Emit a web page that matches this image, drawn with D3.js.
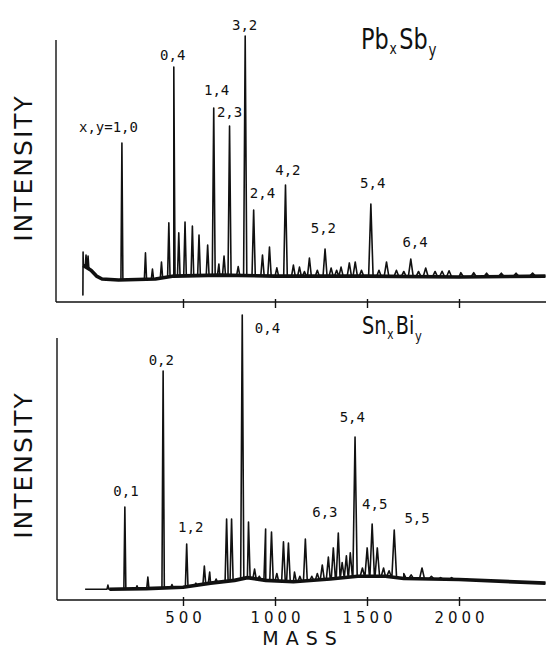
<!DOCTYPE html>
<html>
<head>
<meta charset="utf-8">
<script src="https://cdnjs.cloudflare.com/ajax/libs/d3/7.8.5/d3.min.js"></script>
<style>
  body { margin: 0; background: #fff; }
  svg { display: block; }
  .spectrum { fill: none; stroke: #111; stroke-linejoin: round; }
  .frame { stroke: #111; stroke-width: 1.4; }
  .tick line { stroke: #111; stroke-width: 1.4; }
  .peak-label { font-family: 'DejaVu Sans Mono', monospace; font-size: 14px; fill: #111; }
  .axis-title { font-family: 'DejaVu Sans', sans-serif; fill: #111; }
</style>
</head>
<body>
<div id="chart"></div>
<script>
  'use strict';

  var massTicks = [ 500, 1000, 1500, 2000 ];

  // Pb_x Sb_y : [ mass, intensity ] (intensity 0 = baseline, 100 = 3,2 peak)
  var pbSbPeaks = [
    [ -43, 11.5 ], [ -27, 10.2 ], [ -16, 9.8 ], [ 168, 56.1 ], [ 296, 11.1 ],
    [ 334, 4.5 ], [ 383, 7.4 ], [ 423, 23.4 ], [ 450, 87.3 ], [ 477, 19.3 ],
    [ 511, 23.8 ], [ 551, 22.1 ], [ 587, 18.4 ], [ 634, 14.3 ], [ 667, 70.5 ],
    [ 695, 6.5 ], [ 723, 9.8 ], [ 753, 63.1 ], [ 800, 5.5 ], [ 838, 100 ],
    [ 884, 28.7 ], [ 932, 10.2 ], [ 970, 13.5 ], [ 1010, 5 ],
    [ 1057, 38.9 ], [ 1100, 6.1 ], [ 1133, 5.3 ], [ 1160, 3.5 ], [ 1187, 9.0 ],
    [ 1230, 4 ], [ 1272, 12.7 ], [ 1305, 4.9 ], [ 1335, 4 ], [ 1359, 5.3 ],
    [ 1404, 7.0 ], [ 1436, 7.4 ], [ 1470, 4 ], [ 1521, 31.1 ], [ 1565, 4 ],
    [ 1606, 7.4 ], [ 1660, 4 ], [ 1700, 3.5 ], [ 1738, 8.6 ], [ 1780, 3.5 ],
    [ 1819, 4.9 ], [ 1870, 3.5 ], [ 1908, 3.6 ], [ 1946, 3.8 ], [ 2010, 3 ],
    [ 2080, 3 ], [ 2150, 2.8 ], [ 2230, 2.8 ], [ 2310, 2.8 ], [ 2400, 2.8 ]
  ];

  var pbSbBaseline = [
    [ -44, -6.1 ], [ -42, 6 ], [ 0, 4 ], [ 30, 1.6 ], [ 60, 0.4 ], [ 150, 0 ],
    [ 350, 0.4 ], [ 450, 1.6 ], [ 700, 2 ], [ 1000, 1.6 ], [ 1500, 1.6 ],
    [ 2000, 1.2 ], [ 2470, 1.6 ]
  ];

  var pbSbLabels = [
    [ 'x,y=1,0', 95, 60.7 ], [ '0,4', 444, 90.2 ], [ '1,4', 683, 75.8 ],
    [ '2,3', 753, 66.8 ], [ '3,2', 835, 102.5 ], [ '2,4', 932, 33.6 ],
    [ '4,2', 1070, 43 ], [ '5,2', 1263, 19.3 ], [ '5,4', 1531, 37.7 ],
    [ '6,4', 1761, 13.5 ]
  ];

  // Sn_x Bi_y : [ mass, intensity ] (100 = 0,4 peak)
  var snBiPeaks = [
    [ 92, 1.8 ], [ 184, 30.2 ], [ 250, 1.5 ], [ 309, 4.7 ], [ 392, 79.6 ],
    [ 440, 2 ], [ 520, 16.7 ], [ 570, 2.5 ], [ 616, 8.7 ], [ 645, 6.5 ],
    [ 680, 4 ], [ 737, 25.8 ], [ 764, 25.8 ], [ 822, 100 ], [ 856, 24.7 ],
    [ 889, 7.6 ], [ 915, 5 ], [ 949, 22.2 ], [ 981, 21.1 ], [ 1010, 6 ],
    [ 1046, 17.5 ], [ 1073, 17.1 ], [ 1106, 6.5 ], [ 1135, 5 ], [ 1165, 18.5 ],
    [ 1200, 5 ], [ 1230, 6 ], [ 1257, 9.1 ], [ 1290, 12 ], [ 1317, 15.3 ],
    [ 1344, 20.7 ], [ 1365, 10 ], [ 1388, 12.4 ], [ 1409, 13.5 ], [ 1435, 55.6 ],
    [ 1475, 8 ], [ 1501, 15.3 ], [ 1528, 24 ], [ 1556, 15.3 ], [ 1590, 8 ],
    [ 1620, 7 ], [ 1648, 21.8 ], [ 1700, 6 ], [ 1740, 5.5 ], [ 1799, 8 ],
    [ 1850, 5 ], [ 1900, 4.5 ], [ 1960, 4.5 ], [ 2040, 4 ], [ 2120, 3.5 ],
    [ 2200, 3.2 ], [ 2300, 3 ], [ 2400, 3 ]
  ];

  var snBiBaseline = [
    [ -32, 0.3 ], [ 100, 0.3 ], [ 300, 0.5 ], [ 500, 1 ], [ 650, 2.5 ],
    [ 780, 3.5 ], [ 850, 4.5 ], [ 950, 3.5 ], [ 1100, 3 ], [ 1300, 4 ],
    [ 1450, 5 ], [ 1600, 5 ], [ 1700, 4.2 ], [ 2000, 3.8 ], [ 2470, 2.5 ]
  ];

  var snBiLabels = [
    [ '0,1', 190, 34.2 ], [ '0,2', 382, 81.8 ], [ '1,2', 542, 21.1 ],
    [ '0,4', 959, 93.5 ], [ '6,3', 1271, 26.5 ], [ '5,4', 1420, 61.1 ],
    [ '4,5', 1542, 29.5 ], [ '5,5', 1772, 24.4 ]
  ];

  var width = 546,
      height = 650;

  var svg = d3.select( '#chart' )
    .append( 'svg' )
    .attr( 'width', width )
    .attr( 'height', height );

  var x = d3.scaleLinear()
    .domain( [ 0, 2500 ] )
    .range( [ 91, 551 ] );

  var panels = [
    {
      peaks: pbSbPeaks, baseline: pbSbBaseline, labels: pbSbLabels,
      y: d3.scaleLinear().domain( [ 0, 100 ] ).range( [ 280, 36 ] ),
      axisX: 56, axisTop: 40, axisY: 302, tickLabels: false,
      yLabel: 168, title: [ 'Pb', 'x', 'Sb', 'y' ], titleX: 361, titleY: 49, titleSize: 28
    },
    {
      peaks: snBiPeaks, baseline: snBiBaseline, labels: snBiLabels,
      y: d3.scaleLinear().domain( [ 0, 100 ] ).range( [ 590, 315 ] ),
      axisX: 57, axisTop: 338, axisY: 600, tickLabels: true,
      yLabel: 465, title: [ 'Sn', 'x', 'Bi', 'y' ], titleX: 362, titleY: 334, titleSize: 24
    }
  ];

  function baseAt( baseline, m ) {
    var interp = d3.scaleLinear()
      .domain( baseline.map( function( d ) { return d[0]; }) )
      .range( baseline.map( function( d ) { return d[1]; }) )
      .clamp( true );
    return interp( m );
  }

  function spectrumPoints( peaks, baseline ) {
    var pts = baseline.slice();
    peaks.forEach( function( p ) {
      // spike half width grows slowly with mass
      var hw = 4.5 + p[0] * 0.005;
      pts.push( [ p[0] - hw, baseAt( baseline, p[0] - hw ) ] );
      pts.push( [ p[0], p[1] ] );
      pts.push( [ p[0] + hw, baseAt( baseline, p[0] + hw ) ] );
    });
    pts.sort( function( a, b ) { return a[0] - b[0]; });
    return pts;
  }

  panels.forEach( function( p ) {
    var g = svg.append( 'g' );
    var line = d3.line()
      .x( function( d ) { return x( d[0] ); })
      .y( function( d ) { return p.y( d[1] ); });

    // thick, noisy looking baseline
    g.append( 'path' )
      .attr( 'class', 'spectrum' )
      .attr( 'stroke-width', 3.6 )
      .attr( 'd', line( p.baseline.slice( 1 ) ) );

    g.append( 'path' )
      .attr( 'class', 'spectrum' )
      .attr( 'stroke-width', 1.6 )
      .attr( 'd', line( spectrumPoints( p.peaks, p.baseline ) ) );

    // frame
    g.append( 'line' )
      .attr( 'class', 'frame' )
      .attr( 'x1', p.axisX ).attr( 'x2', p.axisX )
      .attr( 'y1', p.axisTop ).attr( 'y2', p.axisY );

    g.append( 'line' )
      .attr( 'class', 'frame' )
      .attr( 'x1', p.axisX ).attr( 'x2', width )
      .attr( 'y1', p.axisY ).attr( 'y2', p.axisY );

    var axis = g.append( 'g' )
      .attr( 'transform', 'translate(0,' + p.axisY + ')' )
      .call( d3.axisBottom( x )
        .tickValues( massTicks )
        .tickSize( 6 )
        .tickPadding( 6 )
        .tickFormat( p.tickLabels ? d3.format( 'd' ) : '' ) );

    axis.select( '.domain' ).remove();
    axis.selectAll( '.tick line' ).attr( 'y1', -3 );
    axis.selectAll( '.tick text' )
      .attr( 'font-family', 'DejaVu Sans, sans-serif' )
      .attr( 'font-size', 15 )
      .attr( 'letter-spacing', 4 )
      .attr( 'dx', 2 )
      .attr( 'fill', '#111' );

    // peak labels
    g.selectAll( '.peak-label' )
      .data( p.labels )
      .enter().append( 'text' )
      .attr( 'class', 'peak-label' )
      .attr( 'text-anchor', 'middle' )
      .attr( 'x', function( d ) { return x( d[1] ); })
      .attr( 'y', function( d ) { return p.y( d[2] ); })
      .text( function( d ) { return d[0]; });

    // y title
    g.append( 'text' )
      .attr( 'class', 'axis-title' )
      .attr( 'transform', 'translate(32,' + p.yLabel + ') rotate(-90)' )
      .attr( 'text-anchor', 'middle' )
      .attr( 'font-size', 25 )
      .attr( 'letter-spacing', 2 )
      .text( 'INTENSITY' );

    // formula title
    var t = g.append( 'text' )
      .attr( 'class', 'axis-title' )
      .attr( 'transform', 'translate(' + p.titleX + ',' + p.titleY + ') scale(0.8,1)' )
      .attr( 'font-size', p.titleSize );
    t.append( 'tspan' ).text( p.title[0] );
    t.append( 'tspan' ).attr( 'dy', 5 ).attr( 'dx', 1 ).attr( 'font-size', p.titleSize * 0.55 ).text( p.title[1] );
    t.append( 'tspan' ).attr( 'dy', -5 ).attr( 'dx', 3 ).text( p.title[2] );
    t.append( 'tspan' ).attr( 'dy', 7 ).attr( 'dx', 1 ).attr( 'font-size', p.titleSize * 0.6 ).text( p.title[3] );
  });

  svg.append( 'text' )
    .attr( 'class', 'axis-title' )
    .attr( 'x', 303 )
    .attr( 'y', 645 )
    .attr( 'text-anchor', 'middle' )
    .attr( 'font-size', 19 )
    .attr( 'letter-spacing', 7 )
    .text( 'MASS' );
</script>
</body>
</html>
